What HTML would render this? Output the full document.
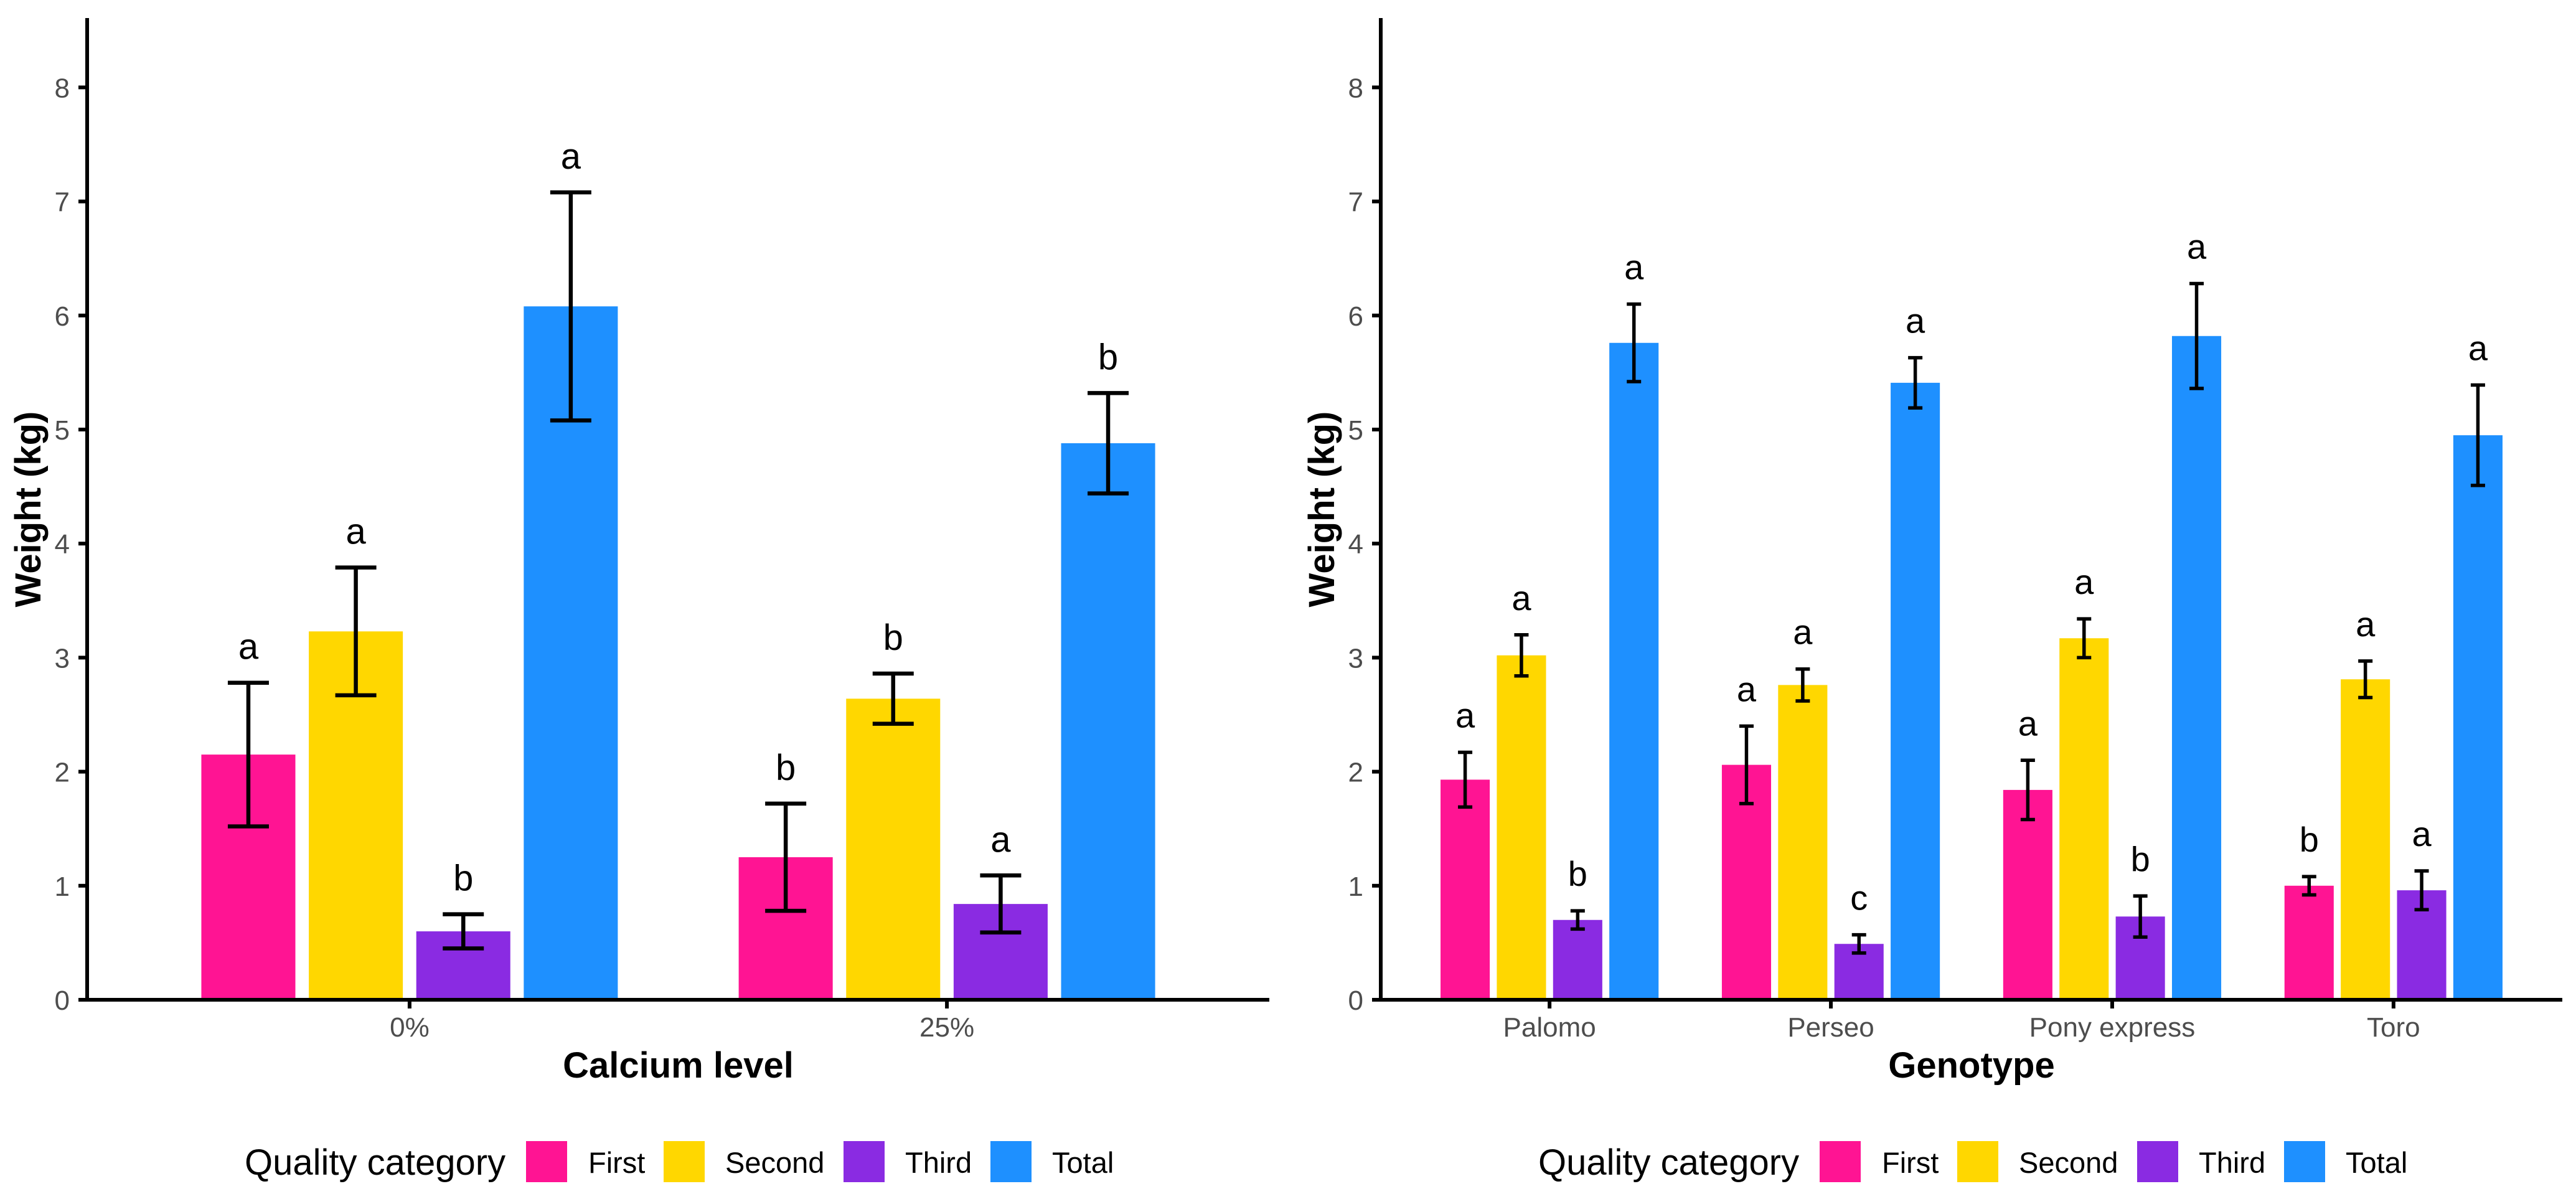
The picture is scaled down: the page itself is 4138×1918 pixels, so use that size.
<!DOCTYPE html>
<html><head><meta charset="utf-8"><style>
html,body{margin:0;padding:0;background:#fff;}
svg{display:block;font-family:"Liberation Sans",Arial,sans-serif;}
</style></head><body>
<svg id="chart" width="4138" height="1918" viewBox="0 0 4138 1918" xmlns="http://www.w3.org/2000/svg"></svg>
<script>
// ---- data ----
const series = ["First","Second","Third","Total"];
const colors = ["#FF1493","#FFD700","#8A2BE2","#1E90FF"];
const yTicks = [0,1,2,3,4,5,6,7,8];

const calciumCats = ["0%","25%"];
const calciumFirst  = [2.15, 1.25];
const calciumSecond = [3.23, 2.64];
const calciumThird  = [0.60, 0.84];
const calciumTotal  = [6.08, 4.88];
const calciumErrFirst  = [0.63, 0.47];
const calciumErrSecond = [0.56, 0.22];
const calciumErrThird  = [0.15, 0.25];
const calciumErrTotal  = [1.00, 0.44];
const calciumLetFirst  = ["a","b"];
const calciumLetSecond = ["a","b"];
const calciumLetThird  = ["b","a"];
const calciumLetTotal  = ["a","b"];

const genoCats = ["Palomo","Perseo","Pony express","Toro"];
const genoFirst  = [1.93, 2.06, 1.84, 1.00];
const genoSecond = [3.02, 2.76, 3.17, 2.81];
const genoThird  = [0.70, 0.49, 0.73, 0.96];
const genoTotal  = [5.76, 5.41, 5.82, 4.95];
const genoErrFirst  = [0.24, 0.34, 0.26, 0.08];
const genoErrSecond = [0.18, 0.14, 0.17, 0.16];
const genoErrThird  = [0.08, 0.08, 0.18, 0.17];
const genoErrTotal  = [0.34, 0.22, 0.46, 0.44];
const genoLetFirst  = ["a","a","a","b"];
const genoLetSecond = ["a","a","a","a"];
const genoLetThird  = ["b","c","b","a"];
const genoLetTotal  = ["a","a","a","a"];

// ---- drawing ----
const svg = document.getElementById('chart');
const NS = "http://www.w3.org/2000/svg";
function mk(tag, attrs, parent, text){
  const e = document.createElementNS(NS, tag);
  for (const k in attrs) e.setAttribute(k, attrs[k]);
  if (text !== undefined) e.textContent = text;
  (parent||svg).appendChild(e);
  return e;
}
const Y0 = 1606, YU = 183.2, YTOP = 29;
function yScale(v){ return Y0 - v*YU; }

function panel(opt){
  const g = mk('g', {});
  
  
  const n = opt.cats.length;
  const unit = (opt.x1 - opt.x0) / (n - 1 + 1.2);
  const xCat = i => opt.x0 + unit * (0.6 + i);
  const vals = [opt.first, opt.second, opt.third, opt.total];
  const errs = [opt.eFirst, opt.eSecond, opt.eThird, opt.eTotal];
  const lets = [opt.lFirst, opt.lSecond, opt.lThird, opt.lTotal];
  const slot = unit * 0.2, bw = unit * 0.175;
  for (let i = 0; i < n; i++){
    for (let s = 0; s < 4; s++){
      const cx = xCat(i) + (s - 1.5) * slot;
      const v = vals[s][i], e = errs[s][i];
      const r = mk('rect', {x: cx - bw/2, y: yScale(v), width: bw, height: yScale(0) - yScale(v), fill: colors[s]}, g);
      
      
      const eg = mk('g', {stroke: '#000', 'stroke-width': opt.ew, fill: 'none'}, g);
      
      
      const yt = yScale(v + e), yb = yScale(v - e), hw = opt.cap / 2;
      mk('line', {x1: cx, x2: cx, y1: yt, y2: yb}, eg);
      mk('line', {x1: cx - hw, x2: cx + hw, y1: yt, y2: yt}, eg);
      mk('line', {x1: cx - hw, x2: cx + hw, y1: yb, y2: yb}, eg);
      const t = mk('text', {x: cx, y: yt - opt.lo, 'text-anchor': 'middle', 'font-size': opt.lf, fill: '#000'}, g, lets[s][i]);
      
      
    }
  }
  // axes
  const ax = mk('g', {stroke: '#000', 'stroke-width': 6}, g);
  
  
  mk('line', {x1: opt.x0, x2: opt.x0, y1: YTOP, y2: Y0 + 3}, ax);
  mk('line', {x1: opt.x0 - 3, x2: opt.x1, y1: Y0, y2: Y0}, ax);
  yTicks.forEach(v => {
    mk('line', {x1: opt.x0 - 14, x2: opt.x0, y1: yScale(v), y2: yScale(v)}, ax);
    const t = mk('text', {x: opt.x0 - 28, y: yScale(v) + 16, 'text-anchor': 'end', 'font-size': 44, fill: '#4D4D4D'}, g, String(v));
    
    
  });
  opt.cats.forEach((c, i) => {
    mk('line', {x1: xCat(i), x2: xCat(i), y1: Y0, y2: Y0 + 14}, ax);
    const t = mk('text', {x: xCat(i), y: 1665, 'text-anchor': 'middle', 'font-size': 44, fill: '#4D4D4D'}, g, c);
    
    
  });
  const xt = mk('text', {x: (opt.x0 + opt.x1)/2, y: 1731, 'text-anchor': 'middle', 'font-size': 58, 'font-weight': 'bold', fill: '#000'}, g, opt.xTitle);
  
  
  const yt = mk('text', {x: 0, y: 0, 'text-anchor': 'middle', 'font-size': 58, 'font-weight': 'bold', fill: '#000', transform: 'translate(' + (opt.x0 - 75) + ',818) rotate(-90)'}, g, 'Weight (kg)');
  
  
  // legend
  const lg = mk('g', {}, g);
  
  
  const d = opt.lx;
  const ttl = mk('text', {x: 393 + d, y: 1887, 'font-size': 58, fill: '#000'}, lg, 'Quality category');
  
  
  const keyX = [845, 1066, 1355, 1591], labX = [945, 1165, 1454, 1690];
  series.forEach((s, k) => {
    const r = mk('rect', {x: keyX[k] + d, y: 1833, width: 66, height: 66, fill: colors[k]}, lg);
    
    
    const t = mk('text', {x: labX[k] + d, y: 1884, 'font-size': 47, fill: '#000'}, lg, s);
    
    
  });
}

panel({name: 'calcium-panel', cats: calciumCats, x0: 140, x1: 2039,
  first: calciumFirst, second: calciumSecond, third: calciumThird, total: calciumTotal,
  eFirst: calciumErrFirst, eSecond: calciumErrSecond, eThird: calciumErrThird, eTotal: calciumErrTotal,
  lFirst: calciumLetFirst, lSecond: calciumLetSecond, lThird: calciumLetThird, lTotal: calciumLetTotal,
  cap: 66, ew: 6.5, lo: 38, lf: 58, xTitle: 'Calcium level', lx: 0});
panel({name: 'genotype-panel', cats: genoCats, x0: 2218, x1: 4116,
  first: genoFirst, second: genoSecond, third: genoThird, total: genoTotal,
  eFirst: genoErrFirst, eSecond: genoErrSecond, eThird: genoErrThird, eTotal: genoErrTotal,
  lFirst: genoLetFirst, lSecond: genoLetSecond, lThird: genoLetThird, lTotal: genoLetTotal,
  cap: 23, ew: 5.5, lo: 40, lf: 56, xTitle: 'Genotype', lx: 2078});
</script>
</body></html>
